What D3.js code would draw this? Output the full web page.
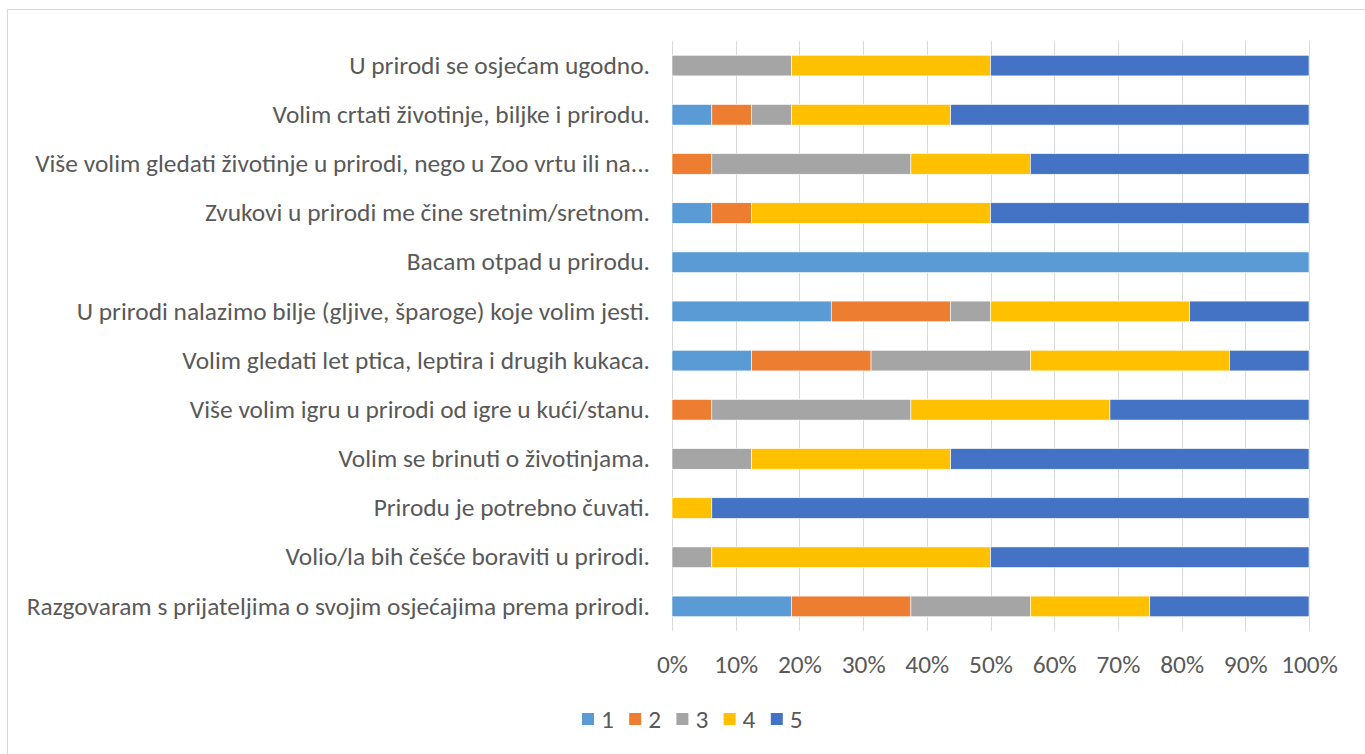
<!DOCTYPE html>
<html>
<head>
<meta charset="utf-8">
<script src="https://cdn.jsdelivr.net/npm/d3@7"></script>
<style>
  body { margin: 0; background: #fff; }
  text { font-family: Carlito, Calibri, "Open Sans", sans-serif; fill: #595959; }
</style>
</head>
<body>
<div id="chart"></div>
<script>
// Data
const categories = [
    'U prirodi se osjećam ugodno.',
    'Volim crtati životinje, biljke i prirodu.',
    'Više volim gledati životinje u prirodi, nego u Zoo vrtu ili na...',
    'Zvukovi u prirodi me čine sretnim/sretnom.',
    'Bacam otpad u prirodu.',
    'U prirodi nalazimo bilje (gljive, šparoge) koje volim jesti.',
    'Volim gledati let ptica, leptira i drugih kukaca.',
    'Više volim igru u prirodi od igre u kući/stanu.',
    'Volim se brinuti o životinjama.',
    'Prirodu je potrebno čuvati.',
    'Volio/la bih češće boraviti u prirodi.',
    'Razgovaram s prijateljima o svojim osjećajima prema prirodi.'
];
const seriesNames = ['1', '2', '3', '4', '5'];
const s1 = [0, 6.25, 0, 6.25, 100, 25, 12.5, 0, 0, 0, 0, 18.75];
const s2 = [0, 6.25, 6.25, 6.25, 0, 18.75, 18.75, 6.25, 0, 0, 0, 18.75];
const s3 = [18.75, 6.25, 31.25, 0, 0, 6.25, 25, 31.25, 12.5, 0, 6.25, 18.75];
const s4 = [31.25, 25, 18.75, 37.5, 0, 31.25, 31.25, 31.25, 31.25, 6.25, 43.75, 18.75];
const s5 = [50, 56.25, 43.75, 50, 0, 18.75, 12.5, 31.25, 56.25, 93.75, 50, 25];
const tickValues = [0, 10, 20, 30, 40, 50, 60, 70, 80, 90, 100];
const colors = ['#5B9BD5', '#ED7D31', '#A5A5A5', '#FFC000', '#4472C4'];

// Constants
const WIDTH = 1365;
const HEIGHT = 754;
const PLOT_LEFT = 672;
const PLOT_RIGHT = 1309;
const PLOT_TOP = 41;
const PLOT_BOTTOM = 631;
const FONT_SIZE = 25.4;

const svg = d3.select('#chart')
    .append('svg').attr('width', WIDTH).attr('height', HEIGHT);

// chart border
svg.append('rect')
    .attr('x', 7.5).attr('y', 9.5)
    .attr('width', 1400).attr('height', 800)
    .attr('fill', 'none')
    .attr('stroke', '#d9d9d9')
    .attr('stroke-width', 1);

const rows = categories.map((c, i) => ({
    category: c, '1': s1[i], '2': s2[i], '3': s3[i], '4': s4[i], '5': s5[i]
}));
const stacked = d3.stack().keys(seriesNames)(rows);

const x = d3.scaleLinear().domain([0, 100]).range([PLOT_LEFT, PLOT_RIGHT]);
const y = d3.scaleBand().domain(categories).range([PLOT_TOP, PLOT_BOTTOM]).paddingInner(0.58).paddingOuter(0.29);

// gridlines
svg.append('g')
    .selectAll('line')
    .data(tickValues)
    .join('line')
    .attr('x1', d => Math.round(x(d)) + 0.5)
    .attr('x2', d => Math.round(x(d)) + 0.5)
    .attr('y1', PLOT_TOP)
    .attr('y2', PLOT_BOTTOM)
    .attr('stroke', '#d9d9d9')
    .attr('stroke-width', 1);

// bars
svg.append('g')
    .selectAll('g')
    .data(stacked)
    .join('g')
    .attr('fill', (d, i) => colors[i])
    .selectAll('rect')
    .data(d => d.filter(p => p[1] - p[0] > 0))
    .join('rect')
    .attr('x', d => x(d[0]))
    .attr('y', d => y(d.data.category))
    .attr('width', d => x(d[1]) - x(d[0]))
    .attr('height', y.bandwidth())
    .attr('stroke', '#fff')
    .attr('stroke-width', 0.6);

// x axis labels
const xAxis = d3.axisBottom(x)
    .tickValues(tickValues)
    .tickFormat(d => d + '%')
    .tickSize(0)
    .tickPadding(0);
const gx = svg.append('g')
    .attr('transform', `translate(0,664)`)
    .call(xAxis);
gx.select('.domain').remove();
gx.selectAll('text')
    .attr('font-size', FONT_SIZE)
    .attr('font-family', null)
    .attr('fill', '#595959')
    .attr('dy', '0.35em');

// y axis labels
const yAxis = d3.axisLeft(y).tickSize(0).tickPadding(22);
const gy = svg.append('g')
    .attr('transform', `translate(${PLOT_LEFT},0)`)
    .call(yAxis);
gy.select('.domain').remove();
gy.selectAll('text')
    .attr('font-size', FONT_SIZE)
    .attr('font-family', null)
    .attr('fill', '#595959');

// legend
const legend = svg.append('g')
    .attr('transform', 'translate(582,713)');
const item = legend.selectAll('g')
    .data(seriesNames)
    .join('g')
    .attr('transform', (d, i) => `translate(${i * 47.2},0)`);
item.append('rect')
    .attr('width', 12).attr('height', 12)
    .attr('fill', (d, i) => colors[i]);
item.append('text')
    .attr('x', 19)
    .attr('y', 6)
    .attr('dy', '0.35em')
    .attr('font-size', FONT_SIZE)
    .text(d => d);
</script>
</body>
</html>
